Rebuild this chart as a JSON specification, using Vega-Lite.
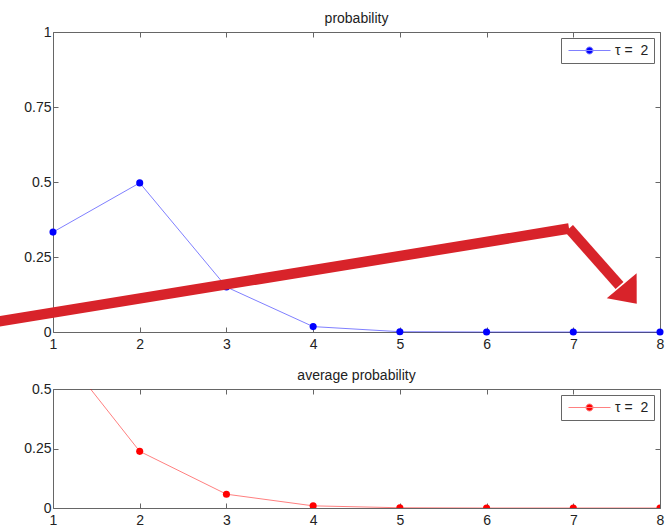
{
  "$schema": "https://vega.github.io/schema/vega-lite/v6.json",
  "background": "white",
  "padding": {"left": -32, "top": 11, "right": 8, "bottom": 0},
  "spacing": 57,
  "bounds": "flush",
  "config": {
    "font": "Liberation Sans",
    "view": {"stroke": "#666", "strokeWidth": 1},
    "axis": {"grid": false, "domain": false, "tickColor": "#666", "tickSize": -5, "labelFont": "Liberation Sans", "labelFontSize": 14, "labelColor": "#222", "labelPadding": 10, "labelFlush": false, "title": null},
    "axisY": {"labelPadding": 7},
    "title": {"fontSize": 14, "fontWeight": "normal", "color": "#222", "offset": -1, "font": "Liberation Sans"},
    "legend": {"orient": "top-right", "offset": 6, "title": null, "strokeColor": "#666", "fillColor": "white", "padding": 5, "labelFontSize": 14, "labelColor": "#222", "labelFont": "Liberation Sans", "symbolSize": 196, "symbolOffset": 16, "labelOffset": 18, "symbolStrokeWidth": 1, "symbolType": "M-3,0L3,0M0.5,0A0.5,0.5,0,1,1,-0.5,0A0.5,0.5,0,1,1,0.5,0Z"}
  },
  "datasets": {
    "prob": [
      {"x": 1, "p": 0.333, "s": "τ =\u00a0\u00a02"},
      {"x": 2, "p": 0.497, "s": "τ =\u00a0\u00a02"},
      {"x": 3, "p": 0.15, "s": "τ =\u00a0\u00a02"},
      {"x": 4, "p": 0.018, "s": "τ =\u00a0\u00a02"},
      {"x": 5, "p": 0.001, "s": "τ =\u00a0\u00a02"},
      {"x": 6, "p": 0, "s": "τ =\u00a0\u00a02"},
      {"x": 7, "p": 0, "s": "τ =\u00a0\u00a02"},
      {"x": 8, "p": 0, "s": "τ =\u00a0\u00a02"}
    ],
    "avg": [
      {"x": 1, "p": 0.7, "s": "τ =\u00a0\u00a02"},
      {"x": 2, "p": 0.238, "s": "τ =\u00a0\u00a02"},
      {"x": 3, "p": 0.058, "s": "τ =\u00a0\u00a02"},
      {"x": 4, "p": 0.009, "s": "τ =\u00a0\u00a02"},
      {"x": 5, "p": 0.001, "s": "τ =\u00a0\u00a02"},
      {"x": 6, "p": 0, "s": "τ =\u00a0\u00a02"},
      {"x": 7, "p": 0, "s": "τ =\u00a0\u00a02"},
      {"x": 8, "p": 0, "s": "τ =\u00a0\u00a02"}
    ],
    "arrow": [
      {"seg": "a", "x": 0.2735, "y": 0.0303},
      {"seg": "a", "x": 6.951, "y": 0.345},
      {"seg": "b", "x": 6.951, "y": 0.345},
      {"seg": "b", "x": 7.533, "y": 0.155}
    ],
    "head": [
      {"x": 7.645, "y": 0.124}
    ]
  },
  "vconcat": [
    {
      "width": 607,
      "height": 300,
      "title": {"text": "probability"},
      "layer": [
        {
          "data": {"name": "prob"},
          "mark": {"type": "line", "stroke": "#0000ff", "strokeOpacity": 0.5, "strokeWidth": 1},
          "encoding": {
            "x": {"field": "x", "type": "quantitative", "scale": {"domain": [1, 8], "nice": false}, "axis": {"orient": "bottom", "values": [1, 2, 3, 4, 5, 6, 7, 8], "format": "d"}},
            "y": {"field": "p", "type": "quantitative", "scale": {"domain": [0, 1], "nice": false}, "axis": {"orient": "left", "values": [0, 0.25, 0.5, 0.75, 1], "format": ".2~f"}}
          }
        },
        {
          "data": {"name": "prob"},
          "mark": {"type": "point", "filled": true, "size": 50, "opacity": 1},
          "encoding": {
            "x": {"field": "x", "type": "quantitative", "scale": {"domain": [1, 8], "nice": false}, "axis": {"orient": "top", "values": [1, 2, 3, 4, 5, 6, 7, 8], "labels": false}},
            "y": {"field": "p", "type": "quantitative", "scale": {"domain": [0, 1], "nice": false}, "axis": {"orient": "right", "values": [0, 0.25, 0.5, 0.75, 1], "labels": false}},
            "color": {"field": "s", "type": "nominal", "scale": {"range": ["#0000ff"]}, "legend": {"symbolStrokeColor": "#8080ff", "encode": {"symbols": {"update": {"fill": {"value": "#0000ff"}, "stroke": {"value": "#8080ff"}, "strokeWidth": {"value": 1}, "opacity": {"value": 1}}}}}}
          }
        },
        {
          "data": {"name": "arrow"},
          "mark": {"type": "line", "color": "#d8232a", "strokeWidth": 10.5, "strokeCap": "butt", "clip": false},
          "encoding": {
            "x": {"field": "x", "type": "quantitative", "scale": {"domain": [1, 8], "nice": false}, "axis": null},
            "y": {"field": "y", "type": "quantitative", "scale": {"domain": [0, 1], "nice": false}, "axis": null},
            "detail": {"field": "seg"}
          }
        },
        {
          "data": {"name": "head"},
          "mark": {"type": "point", "shape": "M-1,-0.6L1,-0.6L0,0.6Z", "filled": true, "color": "#d8232a", "size": 1521, "angle": 320, "opacity": 1, "clip": false},
          "encoding": {
            "x": {"field": "x", "type": "quantitative", "scale": {"domain": [1, 8], "nice": false}, "axis": null},
            "y": {"field": "y", "type": "quantitative", "scale": {"domain": [0, 1], "nice": false}, "axis": null}
          }
        }
      ]
    },
    {
      "width": 607,
      "height": 119,
      "title": {"text": "average probability"},
      "layer": [
        {
          "data": {"name": "avg"},
          "mark": {"type": "line", "stroke": "#ff0000", "strokeOpacity": 0.5, "strokeWidth": 1, "clip": true},
          "encoding": {
            "x": {"field": "x", "type": "quantitative", "scale": {"domain": [1, 8], "nice": false}, "axis": {"orient": "bottom", "values": [1, 2, 3, 4, 5, 6, 7, 8], "format": "d"}},
            "y": {"field": "p", "type": "quantitative", "scale": {"domain": [0, 0.5], "nice": false}, "axis": {"orient": "left", "values": [0, 0.25, 0.5], "format": ".2~f"}}
          }
        },
        {
          "data": {"name": "avg"},
          "mark": {"type": "point", "filled": true, "size": 50, "opacity": 1, "clip": true},
          "encoding": {
            "x": {"field": "x", "type": "quantitative", "scale": {"domain": [1, 8], "nice": false}, "axis": {"orient": "top", "values": [1, 2, 3, 4, 5, 6, 7, 8], "labels": false}},
            "y": {"field": "p", "type": "quantitative", "scale": {"domain": [0, 0.5], "nice": false}, "axis": {"orient": "right", "values": [0, 0.25, 0.5], "labels": false}},
            "color": {"field": "s", "type": "nominal", "scale": {"range": ["#ff0000"]}, "legend": {"symbolStrokeColor": "#ff8080", "encode": {"symbols": {"update": {"fill": {"value": "#ff0000"}, "stroke": {"value": "#ff8080"}, "strokeWidth": {"value": 1}, "opacity": {"value": 1}}}}}}
          }
        }
      ]
    }
  ],
  "resolve": {"scale": {"x": "independent", "y": "independent", "color": "independent"}, "legend": {"color": "independent"}}
}
